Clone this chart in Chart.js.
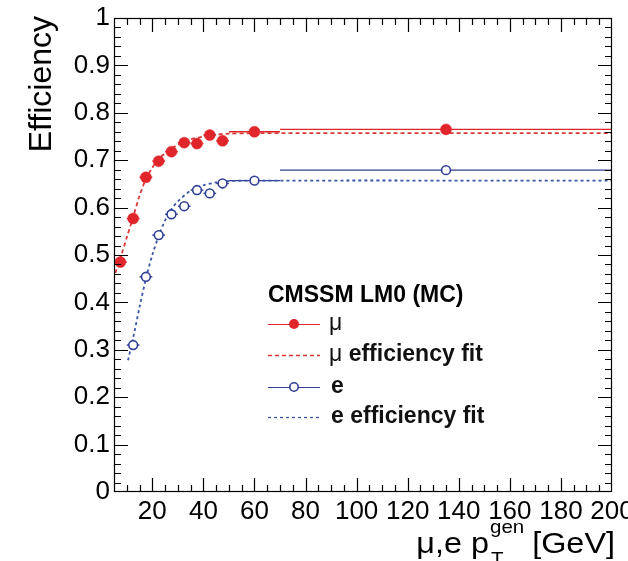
<!DOCTYPE html>
<html><head><meta charset="utf-8">
<script src="https://cdn.jsdelivr.net/npm/chart.js@4"></script>
<style>html,body{margin:0;padding:0;background:#fff;} canvas{display:block;}</style>
</head><body>
<canvas id="c" width="628" height="561"></canvas>
<script>
// ---- data ----
const binLow    = [5, 10, 15, 20, 25, 30, 35, 40, 45, 50, 70];
const binHigh   = [10, 15, 20, 25, 30, 35, 40, 45, 50, 70, 200];
const binCenter = [7.5, 12.5, 17.5, 22.5, 27.5, 32.5, 37.5, 42.5, 47.5, 60, 135];
const muEff = [0.485, 0.577, 0.664, 0.698, 0.718, 0.737, 0.735, 0.753, 0.741, 0.760, 0.765];
const eEff  = [null, 0.310, 0.454, 0.542, 0.586, 0.603, 0.637, 0.630, 0.651, 0.657, 0.679];
const muFitX = [5.5, 8, 10, 12.5, 15, 17.5, 20, 22.5, 25, 27.5, 30, 35, 40, 45, 50, 60, 200];
const muFitY = [0.462, 0.502, 0.537, 0.58, 0.625, 0.66, 0.684, 0.703, 0.714, 0.724, 0.733, 0.744, 0.750, 0.754, 0.756, 0.757, 0.757];
const eFitX = [10.5, 12.5, 15, 17.5, 20, 22.5, 25, 27.5, 30, 35, 40, 45, 50, 60, 200];
const eFitY = [0.278, 0.325, 0.39, 0.45, 0.50, 0.54, 0.573, 0.597, 0.613, 0.636, 0.647, 0.653, 0.656, 0.657, 0.657];
const xTickLabels = ['20', '40', '60', '80', '100', '120', '140', '160', '180', '200'];
const yTickLabels = ['0', '0.1', '0.2', '0.3', '0.4', '0.5', '0.6', '0.7', '0.8', '0.9', '1'];
const legendTitle = 'CMSSM LM0 (MC)';
const legendLabels = ['μ', 'μ efficiency fit', 'e', 'e efficiency fit'];
const yTitle = 'Efficiency';

// ---- styles ----
const RED = '#e0262b', RED_FIT = '#d83a3a', BLUE = '#2f3f95', BLUE_FIT = '#3b55a6';
const FONT = '"Liberation Sans", Arial, Helvetica, sans-serif';

const toPts = (xs, ys) => xs.map((x, i) => ({x: x, y: ys[i]})).filter(p => p.y !== null);

const decor = {
  id: 'decor',
  beforeDatasetsDraw(chart) {
    const ctx = chart.ctx, xs = chart.scales.x, ys = chart.scales.y;
    ctx.save();
    ctx.lineWidth = 1.4;
    [[muEff, RED], [eEff, BLUE]].forEach(([vals, col]) => {
      ctx.strokeStyle = col;
      vals.forEach((v, i) => {
        if (v === null) return;
        const y = ys.getPixelForValue(v);
        ctx.beginPath();
        ctx.moveTo(xs.getPixelForValue(binLow[i]), y);
        ctx.lineTo(xs.getPixelForValue(binHigh[i]), y);
        ctx.stroke();
      });
    });
    ctx.restore();
  },
  afterDraw(chart) {
    const ctx = chart.ctx, a = chart.chartArea, xs = chart.scales.x, ys = chart.scales.y;
    ctx.save();
    // frame
    ctx.strokeStyle = '#000'; ctx.lineWidth = 1.2;
    ctx.strokeRect(a.left + 0.5, a.top + 0.5, a.right - a.left - 1, a.bottom - a.top - 1);
    // ticks inside
    ctx.beginPath();
    for (let v = 10; v < 200; v += 5) {
      const px = Math.round(xs.getPixelForValue(v)) + 0.5;
      const L = (v % 20 === 0) ? 14 : 7;
      ctx.moveTo(px, a.bottom); ctx.lineTo(px, a.bottom - L);
      ctx.moveTo(px, a.top); ctx.lineTo(px, a.top + L);
    }
    for (let i = 1; i < 50; i++) {
      const py = Math.round(ys.getPixelForValue(i * 0.02)) + 0.5;
      const L = (i % 5 === 0) ? 14 : 7;
      ctx.moveTo(a.left, py); ctx.lineTo(a.left + L, py);
      ctx.moveTo(a.right, py); ctx.lineTo(a.right - L, py);
    }
    ctx.stroke();

    // y title
    ctx.fillStyle = '#000';
    ctx.save();
    ctx.translate(51, a.top - 2);
    ctx.rotate(-Math.PI / 2);
    ctx.font = '32px ' + FONT;
    ctx.textAlign = 'right'; ctx.textBaseline = 'alphabetic';
    ctx.fillText(yTitle, 0, 0);
    ctx.restore();

    // x title: μ,e p_T^gen [GeV]
    ctx.save();
    const F = 30, sx = 1.08;
    const big = F + 'px ' + FONT, small = Math.round(F * 0.62) + 'px ' + FONT;
    const t1 = 'μ,e p', t2 = ' [GeV]';
    ctx.font = big; const w1 = ctx.measureText(t1).width, w3 = ctx.measureText(t2).width;
    ctx.font = small; const w2 = Math.max(ctx.measureText('gen').width, ctx.measureText('T').width);
    const total = (w1 + w2 + w3) * sx;
    ctx.translate(615 - total, 553);
    ctx.scale(sx, 1);
    ctx.textAlign = 'left'; ctx.textBaseline = 'alphabetic';
    ctx.font = big; ctx.fillText(t1, 0, 0);
    ctx.font = small; ctx.fillText('gen', w1 + 1, -20); ctx.fillText('T', w1 + 2, 12);
    ctx.font = big; ctx.fillText(t2, w1 + w2, 0);
    ctx.restore();

    // legend
    const lx0 = 268, lx1 = 320, tx = 329;
    ctx.textAlign = 'left';
    ctx.textBaseline = 'alphabetic';
    ctx.font = 'bold 23px ' + FONT;
    ctx.fillText(legendTitle, lx0, 302);
    const rows = [324, 355, 387, 417];
    const styles = [
      {col: RED, dash: [], marker: 'fill'},
      {col: RED_FIT, dash: [4, 3], marker: null},
      {col: BLUE, dash: [], marker: 'open'},
      {col: BLUE_FIT, dash: [3, 3], marker: null}
    ];
    rows.forEach((ry, i) => {
      const s = styles[i];
      ctx.save();
      ctx.strokeStyle = s.col; ctx.lineWidth = s.marker ? 1.1 : 1.3;
      ctx.setLineDash(s.dash);
      ctx.beginPath(); ctx.moveTo(lx0, ry + 0.5); ctx.lineTo(lx1, ry + 0.5); ctx.stroke();
      ctx.setLineDash([]);
      const mx = (lx0 + lx1) / 2;
      if (s.marker === 'fill') {
        ctx.fillStyle = s.col; ctx.beginPath(); ctx.arc(mx, ry, 5, 0, Math.PI * 2); ctx.fill();
      } else if (s.marker === 'open') {
        ctx.fillStyle = '#fff'; ctx.strokeStyle = s.col; ctx.lineWidth = 1.6;
        ctx.beginPath(); ctx.arc(mx, ry, 4.2, 0, Math.PI * 2); ctx.fill(); ctx.stroke();
      }
      ctx.restore();
      const lab = legendLabels[i];
      ctx.textBaseline = 'middle';
      ctx.fillStyle = '#111';
      if (lab.startsWith('μ')) {
        ctx.font = '23px ' + FONT;
        ctx.fillText('μ', tx, ry);
        const wm = ctx.measureText('μ').width;
        ctx.font = 'bold 23px ' + FONT;
        ctx.fillText(lab.slice(1), tx + wm, ry);
      } else {
        ctx.font = 'bold 23px ' + FONT;
        ctx.fillText(lab, tx + 2, ry);
      }
    });
    ctx.restore();
  }
};

new Chart(document.getElementById('c'), {
  type: 'scatter',
  data: {
    datasets: [
      {label: legendLabels[0], data: toPts(binCenter, muEff), showLine: false,
       pointRadius: 5.5, pointBackgroundColor: RED, pointBorderColor: RED, pointBorderWidth: 0.5},
      {label: legendLabels[2], data: toPts(binCenter, eEff), showLine: false,
       pointRadius: 4.4, pointBackgroundColor: '#ffffff', pointBorderColor: BLUE, pointBorderWidth: 1.6},
      {label: legendLabels[1], data: toPts(muFitX, muFitY), showLine: true, pointRadius: 0,
       borderColor: RED_FIT, borderWidth: 1.8, borderDash: [4, 3], tension: 0.3, fill: false},
      {label: legendLabels[3], data: toPts(eFitX, eFitY), showLine: true, pointRadius: 0,
       borderColor: BLUE_FIT, borderWidth: 1.8, borderDash: [3, 3], tension: 0.3, fill: false}
    ]
  },
  options: {
    responsive: false, animation: false, devicePixelRatio: 1,
    layout: {padding: {left: 0, right: 16, top: 18, bottom: 0}},
    plugins: {legend: {display: false}, tooltip: {enabled: false}},
    scales: {
      x: {
        type: 'linear', min: 5, max: 200,
        grid: {display: false, drawTicks: false}, border: {display: false},
        afterBuildTicks: s => { s.ticks = xTickLabels.map(t => ({value: parseFloat(t)})); },
        afterFit: s => { s.height = 69; s.paddingLeft = 0; s.paddingRight = 0; },
        ticks: {color: '#000', font: {family: FONT, size: 26}, padding: 4, maxRotation: 0, autoSkip: false,
                callback: (v) => xTickLabels.find(t => parseFloat(t) === v) ?? ''}
      },
      y: {
        type: 'linear', min: 0, max: 1,
        grid: {display: false, drawTicks: false}, border: {display: false},
        afterBuildTicks: s => { s.ticks = yTickLabels.map(t => ({value: parseFloat(t)})); },
        afterFit: s => { s.width = 114; s.paddingTop = 0; s.paddingBottom = 0; },
        ticks: {color: '#000', font: {family: FONT, size: 26}, padding: 4, autoSkip: false,
                callback: (v) => yTickLabels.find(t => parseFloat(t) === v) ?? ''}
      }
    }
  },
  plugins: [decor]
});
</script>
</body></html>
